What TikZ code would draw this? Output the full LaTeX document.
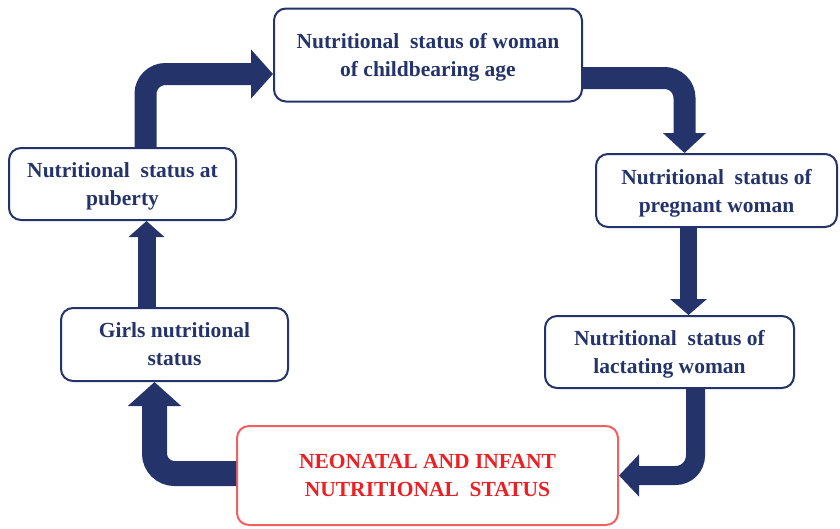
\documentclass[tikz,border=0pt]{standalone}
\usepackage{fontspec}
\setmainfont{Liberation Serif}
\usetikzlibrary{arrows.meta,positioning}
\definecolor{navy}{RGB}{36,52,107}
\definecolor{boxred}{RGB}{240,96,96}
\definecolor{textred}{RGB}{234,32,36}

\begin{document}
\begin{tikzpicture}[x=1pt,y=-1pt,every node/.append style={align=center,font=\fontsize{21.5}{28}\selectfont\bfseries}]
    \tikzstyle{stage}=[draw=navy, line width=2pt, rounded corners=12pt, fill=white, text=navy, inner sep=0pt, text depth=0pt]
    \tikzstyle{flow}=[navy, rounded corners=20pt]
    \useasboundingbox (0,0) rectangle (840,528);
    \node[stage, minimum width=308pt, minimum height=93pt] (woman) at (428,55) {Nutritional~ status of woman\\of childbearing age};
    \node[stage, minimum width=241pt, minimum height=73pt] (pregnant) at (716.5,190.5) {Nutritional~ status of\\pregnant woman};
    \node[stage, minimum width=249pt, minimum height=72pt] (lactating) at (669.5,352) {Nutritional~ status of\\lactating woman};
    \node[stage, draw=boxred, text=textred, minimum width=381pt, minimum height=99pt] (neonatal) at (427.5,475.5) {NEONATAL AND INFANT\\NUTRITIONAL~ STATUS};
    \node[stage, minimum width=227pt, minimum height=73pt] (girls) at (174.5,344.5) {Girls nutritional\\status};
    \node[stage, minimum width=227pt, minimum height=72pt] (puberty) at (122.5,184) {Nutritional~ status at\\puberty};
    % cycle arrows
    \draw[flow, line width=22pt, -{Triangle[width=48pt,length=22pt]}] ([xshift=23pt]puberty.north) |- ([yshift=-19pt]woman.west);
    \draw[flow, line width=22pt, -{Triangle[width=42pt,length=20pt]}] ([yshift=-23pt]woman.east) -| ([xshift=-32pt]pregnant.north);
    \draw[flow, line width=17pt, -{Triangle[width=36pt,length=16pt]}] ([xshift=-28pt]pregnant.south) -- ([xshift=-28pt]pregnant.south |- lactating.north);
    \draw[flow, line width=19pt, -{Triangle[width=41pt,length=20pt]}] ([xshift=26pt]lactating.south) |- (neonatal.east);
    \draw[flow, line width=25pt, -{Triangle[width=52pt,length=24pt]}] ([yshift=2pt]neonatal.west) -| ([xshift=-20pt]girls.south);
    \draw[flow, line width=18pt, -{Triangle[width=35pt,length=16pt]}] ([xshift=-28pt]girls.north) -- ([xshift=-28pt]girls.north |- puberty.south);
\end{tikzpicture}
\end{document}
